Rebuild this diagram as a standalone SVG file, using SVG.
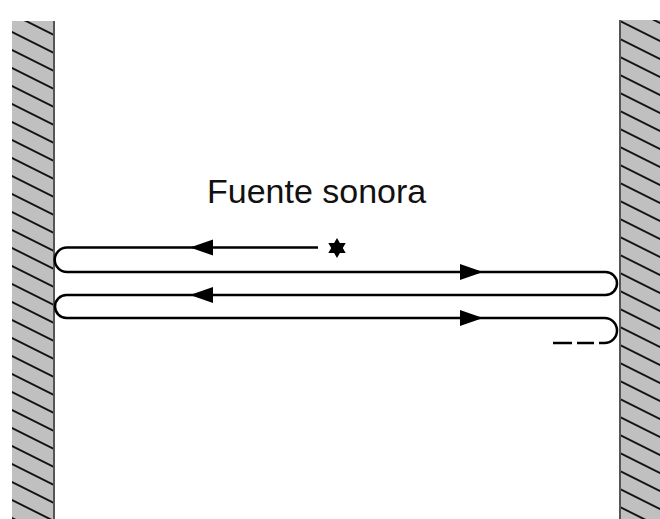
<svg xmlns="http://www.w3.org/2000/svg" width="660" height="519" viewBox="0 0 660 519">
  <style>
    .wall { stroke: none; }
    .edge { stroke: #555; stroke-width: 2; fill: none; }
    .ray { fill: none; stroke: #000; stroke-width: 2.5; }
    .head { fill: #000; stroke: none; }
    .label { font-family: "Liberation Sans", Arial, sans-serif; font-size: 34px; fill: #111; }
  </style>
  <defs>
    <pattern id="hatchL" patternUnits="userSpaceOnUse" width="200" height="16.1" patternTransform="translate(12,32) rotate(26.57)">
      <rect width="200" height="16.1" fill="#c0c0c0"/>
      <line x1="0" y1="0" x2="200" y2="0" stroke="#111" stroke-width="1.7"/>
      <line x1="0" y1="16.1" x2="200" y2="16.1" stroke="#111" stroke-width="1.7"/>
    </pattern>
    <pattern id="hatchR" patternUnits="userSpaceOnUse" width="200" height="16.1" patternTransform="translate(620,39) rotate(26.57)">
      <rect width="200" height="16.1" fill="#c0c0c0"/>
      <line x1="0" y1="0" x2="200" y2="0" stroke="#111" stroke-width="1.7"/>
      <line x1="0" y1="16.1" x2="200" y2="16.1" stroke="#111" stroke-width="1.7"/>
    </pattern>
    <polygon id="arrowL" class="head" points="0,0 23,-8 23,8"/>
    <polygon id="arrowR" class="head" points="0,0 -23,-8 -23,8"/>
  </defs>

  <g id="wall-left">
    <rect class="wall" x="12" y="21" width="42" height="498" fill="url(#hatchL)"/>
    <line class="edge" x1="54" y1="21" x2="54" y2="519"/>
  </g>

  <g id="wall-right">
    <rect class="wall" x="620" y="20" width="40" height="499" fill="url(#hatchR)"/>
    <line class="edge" x1="620" y1="20" x2="620" y2="519"/>
  </g>

  <g id="source">
    <polygon class="head" points="337,238 339.9,243 345.7,243 342.8,248 345.7,253 339.9,253 337,258 334.1,253 328.3,253 331.2,248 328.3,243 334.1,243"/>
    <text class="label" x="207" y="203">Fuente sonora</text>
  </g>

  <g id="connectors">
    <path class="ray" d="M318,247.5 H67 A12.25,12.25 0 0 0 67,272 H605.5 A11.5,11.5 0 0 1 605.5,295 H66.5 A11.5,11.5 0 0 0 66.5,318 H604.5 A12.5,12.5 0 0 1 604.5,343 H599 M594,343 H577 M572,343 H553"/>
    <use href="#arrowL" x="190" y="247.5"/>
    <use href="#arrowL" x="190" y="295"/>
    <use href="#arrowR" x="483" y="272"/>
    <use href="#arrowR" x="483" y="318"/>
  </g>
</svg>
